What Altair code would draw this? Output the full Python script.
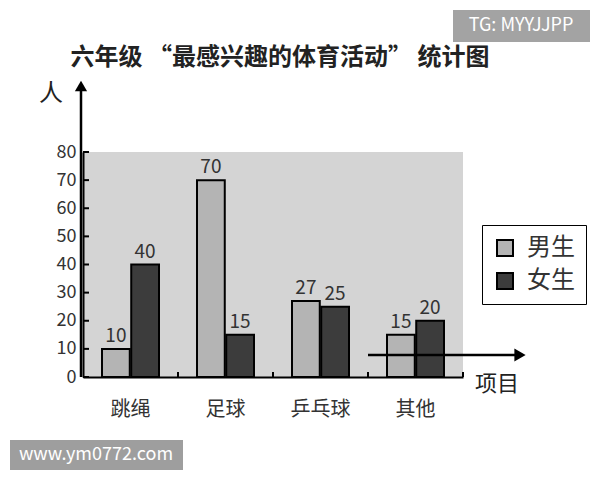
import altair as alt
import pandas as pd

categories = ["跳绳", "足球", "乒乓球", "其他"]
boys = [10, 70, 27, 15]
girls = [40, 15, 25, 20]
genders = ["男生", "女生"]
y_ticks = [0, 10, 20, 30, 40, 50, 60, 70, 80]

rows = []
for c, b, g in zip(categories, boys, girls):
    rows.append({"项目": c, "性别": "男生", "人数": b})
    rows.append({"项目": c, "性别": "女生", "人数": g})
df = pd.DataFrame(rows)

FONT = "Noto Sans CJK SC"
W, H = 380, 225

yaxis = alt.Axis(values=y_ticks, labelFontSize=18, labelColor="#333", labelPadding=7,
                 ticks=False, grid=False, domainColor="black", domainWidth=2,
                 title=None, labelFont=FONT, labelOverlap=False)
yscale = alt.Scale(domain=[0, 80], nice=False)
xscale = alt.Scale(paddingInner=0.4, paddingOuter=0.2)
xaxis = alt.Axis(labelAngle=0, labelFontSize=20, labelPadding=22, labelColor="#333",
                 ticks=False, domainColor="black", domainWidth=2, title=None,
                 labelFont=FONT, labelOverlap=False)

xenc = alt.X("项目:N", sort=categories, scale=xscale, axis=xaxis)
xoff = alt.XOffset("性别:N", sort=genders, scale=alt.Scale(paddingInner=0.05))
yenc = alt.Y("人数:Q", scale=yscale, axis=yaxis)

base = alt.Chart(df)
bars = base.mark_bar(stroke="black", strokeWidth=2).encode(
    x=xenc, xOffset=xoff, y=yenc,
    color=alt.Color("性别:N", sort=genders,
                    scale=alt.Scale(domain=genders, range=["#b4b4b4", "#3c3c3c"]),
                    legend=alt.Legend(orient="none", legendX=399, legendY=73, title=None,
                                      symbolType="square", symbolSize=256,
                                      symbolStrokeColor="black", symbolStrokeWidth=2,
                                      symbolOpacity=1, labelFontSize=24, labelColor="#333",
                                      labelFont=FONT, strokeColor="black", fillColor="white",
                                      padding=11, rowPadding=9, labelOffset=10)),
)
labels = base.mark_text(dy=-13, fontSize=19, color="#333", font=FONT).encode(
    x=xenc, xOffset=xoff, y=yenc, text="人数:Q"
)

tick_df = pd.DataFrame({"人数": y_ticks})
yt = alt.Chart(tick_df).mark_rule(color="black", strokeWidth=2).encode(
    y=alt.Y("人数:Q", scale=yscale, axis=yaxis),
    x=alt.value(0), x2=alt.value(6)
)

cat_df = pd.DataFrame({"项目": categories})
xt = alt.Chart(cat_df).mark_rule(color="black", strokeWidth=2, xOffset=19).encode(
    x=alt.X("项目:N", sort=categories, scale=xscale, axis=xaxis, bandPosition=1),
    y=alt.value(H - 5), y2=alt.value(H)
)

one = pd.DataFrame({"a": [0]})
yarrow = alt.Chart(one).mark_rule(color="black", strokeWidth=2.5).encode(
    x=alt.value(-2), y=alt.value(-64), y2=alt.value(H))
yhead = alt.Chart(one).mark_point(shape="triangle-up", filled=True, color="black",
                                  size=150, opacity=1).encode(
    x=alt.value(-2), y=alt.value(-66))
xarrow = alt.Chart(one).mark_rule(color="black", strokeWidth=2.5).encode(
    x=alt.value(285), x2=alt.value(435), y=alt.value(203))
xhead = alt.Chart(one).mark_point(shape="triangle-right", filled=True, color="black",
                                  size=170, opacity=1).encode(
    x=alt.value(437), y=alt.value(203))

def txt(s, x, y, size, weight="normal", color="#222", align="center"):
    return alt.Chart(one).mark_text(text=s, fontSize=size, fontWeight=weight, color=color,
                                    font=FONT, align=align, baseline="middle").encode(
        x=alt.value(x), y=alt.value(y))

title = txt("六年级 “最感兴趣的体育活动” 统计图", 197, -94, 24, "bold", "#222")
ren = txt("人", -32, -58, 24)
xiang = txt("项目", 414, 232, 22)

wm1_rect = alt.Chart(one).mark_rect(color="#a3a3a3").encode(
    x=alt.value(370), x2=alt.value(507), y=alt.value(-142), y2=alt.value(-110))
wm1 = txt("TG: MYYJJPP", 438, -126, 18, "normal", "white")
wm2_rect = alt.Chart(one).mark_rect(color="#9e9e9e").encode(
    x=alt.value(-73), x2=alt.value(100), y=alt.value(288), y2=alt.value(318))
wm2 = txt("www.ym0772.com", 13, 303, 18, "normal", "white")

chart = alt.layer(bars, labels, yt, xt, yarrow, yhead, xarrow, xhead, title, ren, xiang,
                  wm1_rect, wm1, wm2_rect, wm2).properties(
    width=W, height=H, autosize="none",
    padding={"left": 75, "top": 144, "right": 129, "bottom": 95},
    background="white",
).configure_view(fill="#d4d4d4", strokeWidth=0)

chart.save("out.html", embed_options={"renderer": "svg", "actions": False})
